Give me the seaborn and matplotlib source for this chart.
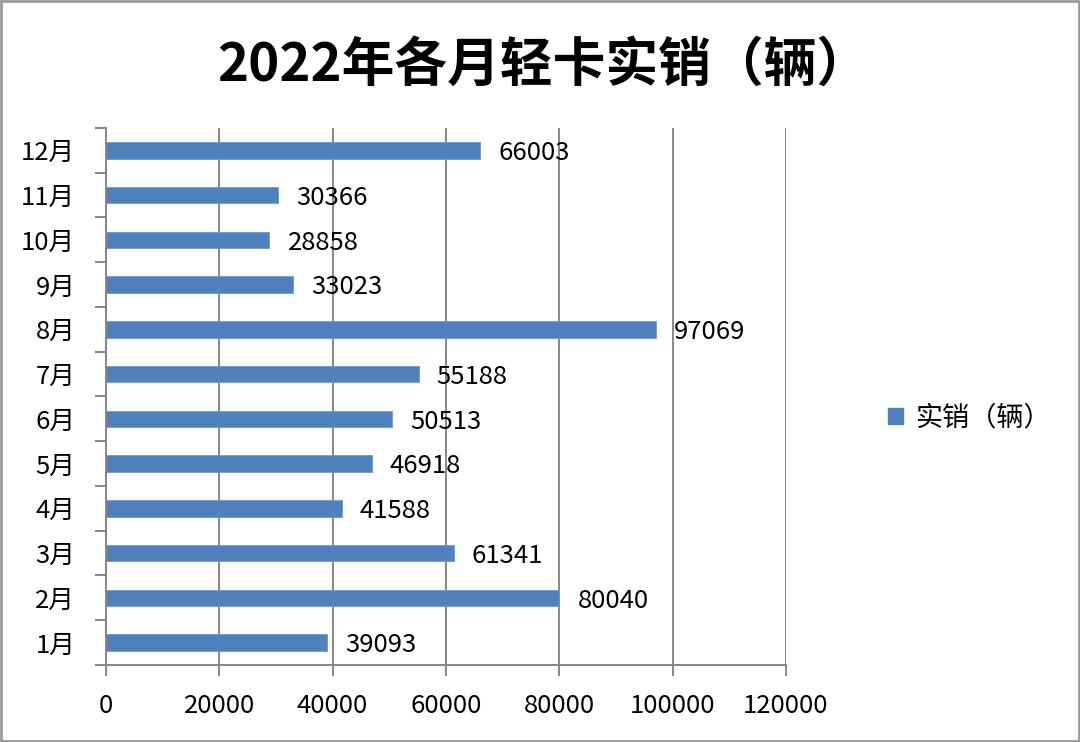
import matplotlib
matplotlib.use("Agg")
import matplotlib.pyplot as plt
import seaborn as sns
import pandas as pd
from matplotlib.patches import Patch, Rectangle
from matplotlib.ticker import MultipleLocator

months = ["1月", "2月", "3月", "4月", "5月", "6月", "7月", "8月", "9月", "10月", "11月", "12月"]
sales = [39093, 80040, 61341, 41588, 46918, 50513, 55188, 97069, 33023, 28858, 30366, 66003]
series_name = "实销（辆）"
title = "2022年各月轻卡实销（辆）"
x_ticks = [0, 20000, 40000, 60000, 80000, 100000, 120000]

sns.set_theme(style="white")
plt.rcParams["font.family"] = ["Noto Sans CJK SC", "DejaVu Sans"]
plt.rcParams["text.color"] = "black"
plt.rcParams["xtick.color"] = "black"
plt.rcParams["ytick.color"] = "black"

BAR_COLOR = "#4F81BD"
GRID_COLOR = "#868686"

df = pd.DataFrame({"month": months, "sales": sales})

fig = plt.figure(figsize=(10.8, 7.42), dpi=100)
ax = fig.add_axes([0.0981, 0.1038, 0.6296, 0.7237])

sns.barplot(data=df, x="sales", y="month", order=months[::-1], orient="h",
            color=BAR_COLOR, saturation=1, width=0.37, edgecolor="#6d98cc",
            linewidth=0.6, ax=ax)

ax.set_xlim(0, 120000)
ax.set_ylim(len(months) - 0.5, -0.5)
ax.set_xticks(x_ticks)
ax.set_xticklabels([str(t) for t in x_ticks], fontsize=18.5)
ax.xaxis.grid(True, color=GRID_COLOR, linewidth=1.4)
ax.set_axisbelow(True)
ax.set_xlabel("")
ax.set_ylabel("")

# category boundary ticks on the y axis, labels in the middle
ax.set_yticks(range(len(months)))
ax.set_yticklabels(months[::-1], fontsize=18.5)
ax.yaxis.set_minor_locator(MultipleLocator(1, offset=0.5))
ax.tick_params(axis="y", which="major", length=0, pad=22, colors="black")
ax.tick_params(axis="y", which="minor", length=8, width=1.4, color=GRID_COLOR, left=True)
ax.tick_params(axis="x", which="major", length=8, width=1.4, color=GRID_COLOR,
               labelcolor="black", bottom=True, pad=12)

for side in ["top", "right"]:
    ax.spines[side].set_visible(False)
for side in ["left", "bottom"]:
    ax.spines[side].set_color(GRID_COLOR)
    ax.spines[side].set_linewidth(1.4)

for i, (m, v) in enumerate(zip(months[::-1], sales[::-1])):
    ax.annotate(str(v), (v, i), xytext=(13, -2), textcoords="offset points",
                va="center", ha="left", fontsize=18.5, color="black")

fig.text(0.503, 0.912, title, ha="center", va="center", fontsize=38,
         fontweight="bold", color="black")

handle = Patch(facecolor=BAR_COLOR, edgecolor=BAR_COLOR)
fig.legend([handle], [series_name], loc="center left", bbox_to_anchor=(0.8, 0.437),
           frameon=False, fontsize=19.5, handlelength=0.55, handleheight=0.55,
           handletextpad=0.45)

fig.patches.append(Rectangle((0.001, 0.001), 0.998, 0.998, transform=fig.transFigure,
                             fill=False, edgecolor="#9a9a9a", linewidth=2))

fig.savefig("out.png", dpi=100, facecolor="white")
